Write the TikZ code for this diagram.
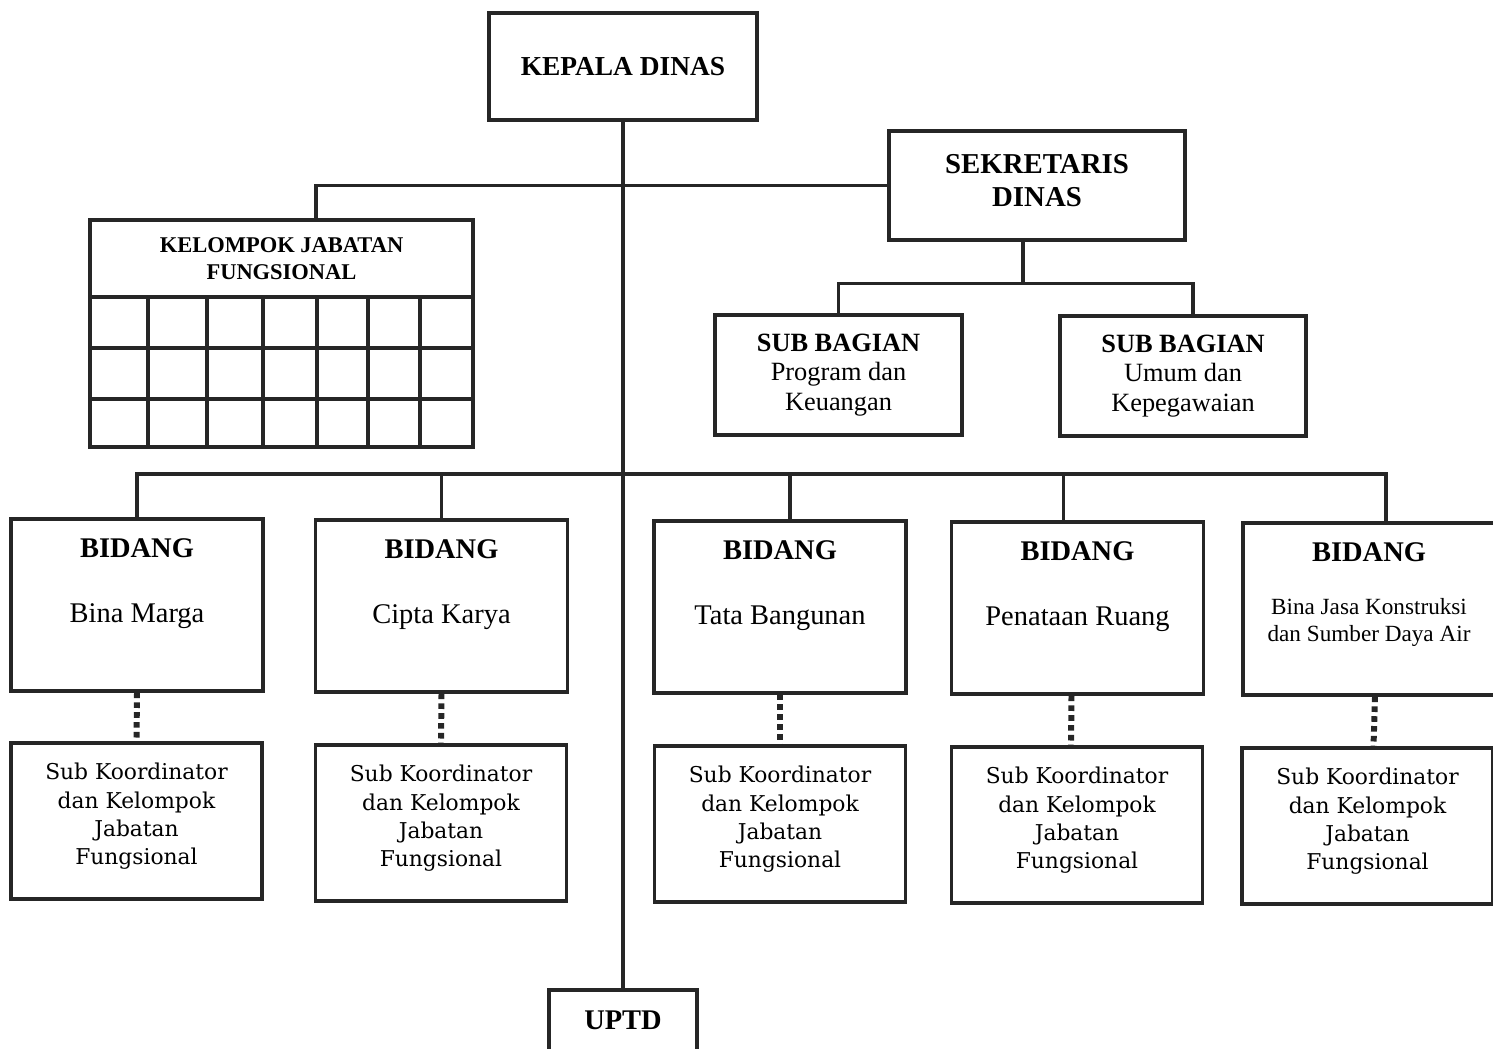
\documentclass[tikz,border=0pt]{standalone}
\usepackage{fontspec}
\setmainfont{Liberation Serif}
\newfontfamily\subfont{DejaVu Serif}
\usetikzlibrary{positioning}

\begin{document}
\begin{tikzpicture}[
	box/.style = {draw = black!85, line width = 1pt, align = center, inner sep = 0pt},
	bidangbox/.style = {box, anchor = north, minimum width = 2.52cm, minimum height = 1.72cm},
	subbox/.style = {box, anchor = north, minimum width = 2.51cm, minimum height = 1.56cm},
	subtext/.style = {align = center, font = \subfont\fontsize{6.2}{8}\selectfont},
	conn/.style = {black!85, line width = 0.9pt},
	dots/.style = {black!85, line width = 1.7pt, dash pattern = on 1.6pt off 1.2pt}
	]
	%	canvas
	\useasboundingbox (0, 0) rectangle (14.93, -10.48);
	
	%	top
	\node[box, minimum width = 2.68cm, minimum height = 1.07cm, font = \bfseries\fontsize{7.8}{9}\selectfont]
		(kepala) at (6.23, -0.665) {KEPALA DINAS};
	\node[box, minimum width = 2.96cm, minimum height = 1.09cm] (sekretaris) at (10.37, -1.855) {};
	\node[align = center, font = \bfseries\fontsize{8.2}{9.4}\selectfont, below = 0.13cm of sekretaris.north]
		(sektext) {SEKRETARIS\\DINAS};
	
	%	sub bagian
	\node[box, minimum width = 2.47cm, minimum height = 1.2cm, font = \fontsize{7.5}{8.5}\selectfont]
		(subprog) at (8.385, -3.75) {\textbf{SUB BAGIAN}\\Program dan\\Keuangan};
	\node[box, minimum width = 2.46cm, minimum height = 1.2cm, font = \fontsize{7.5}{8.5}\selectfont]
		(subumum) at (11.83, -3.76) {\textbf{SUB BAGIAN}\\Umum dan\\Kepegawaian};
	
	%	kelompok jabatan fungsional
	\draw[box] (0.90, -2.20) rectangle (4.73, -4.47);
	\draw[conn] (0.90, -2.97) -- (4.73, -2.97);
	\foreach \y in {-3.48, -3.99}
		\draw[conn] (0.90, \y) -- (4.73, \y);
	\foreach \x in {1.48, 2.07, 2.63, 3.17, 3.68, 4.20}
		\draw[conn] (\x, -2.97) -- (\x, -4.47);
	\node[align = center, font = \bfseries\fontsize{6.4}{7.7}\selectfont]
		(kelompok) at (2.815, -2.585) {KELOMPOK JABATAN\\FUNGSIONAL};
	\coordinate (kelompoktop) at (3.16, -2.20);
	
	%	bidang
	\node[bidangbox] (b1) at (1.37, -5.17) {};
	\node[bidangbox] (b2) at (4.415, -5.18) {};
	\node[bidangbox] (b3) at (7.80, -5.19) {};
	\node[bidangbox] (b4) at (10.775, -5.20) {};
	\node[bidangbox] (b5) at (13.69, -5.21) {};
	\foreach \b/\t in {b1/Bina Marga, b2/Cipta Karya, b3/Tata Bangunan, b4/Penataan Ruang}{
		\node[font = \bfseries\fontsize{8.1}{9}\selectfont, below = 0.09cm of \b.north] (\b head) {BIDANG};
		\node[font = \fontsize{8.1}{9}\selectfont, below = 0.74cm of \b.north] (\b name) {\t};
	}
	\node[font = \bfseries\fontsize{8.1}{9}\selectfont, below = 0.09cm of b5.north] (b5head) {BIDANG};
	\node[align = center, font = \fontsize{6.6}{7.7}\selectfont, below = 0.65cm of b5.north]
		(b5name) {Bina Jasa Konstruksi\\dan Sumber Daya Air};
	
	%	sub koordinator
	\node[subbox] (s1) at (1.365, -7.41) {};
	\node[subbox] (s2) at (4.41, -7.43) {};
	\node[subbox] (s3) at (7.80, -7.44) {};
	\node[subbox] (s4) at (10.77, -7.45) {};
	\node[subbox] (s5) at (13.675, -7.46) {};
	\foreach \i in {1, ..., 5}
		\node[subtext, below = 0.1cm of s\i.north] (s\i text) {Sub Koordinator\\dan Kelompok\\Jabatan\\Fungsional};
	
	%	uptd
	\node[box, anchor = north, minimum width = 1.48cm, minimum height = 0.62cm,
		font = \bfseries\fontsize{8.1}{9}\selectfont] (uptd) at (6.23, -9.88) {UPTD};
	
	%	lines
	\draw[conn] (kepala.south) -- (uptd.north);
	\draw[conn] (kelompoktop) |- (sekretaris.west);
	\draw[conn] ([xshift = -0.14cm]sekretaris.south) -- ++(0, -0.42) coordinate (sekjoin);
	\draw[conn] (subprog.north) |- (sekjoin) -| ([xshift = 0.1cm]subumum.north);
	\coordinate (bus) at (0, -4.74);
	\draw[conn] (b1.north) |- (bus -| b3.north) -| ([xshift = 0.10cm]b3.north);
	\draw[conn] (b2.north) -- (bus -| b2.north);
	\draw[conn] ([xshift = -0.14cm]b4.north) |- (bus -| b4.north) -| ([xshift = 0.17cm]b5.north);
	\draw[conn] (bus -| b3.north) -- (bus -| b4.north);
	
	%	dotted links
	\foreach \i/\dx in {1/0, 2/0, 3/0, 4/-0.06, 5/0.06}
		\draw[dots] ([xshift = \dx cm]b\i.south) -- ([xshift = \dx cm]s\i.north);
\end{tikzpicture}
\end{document}
